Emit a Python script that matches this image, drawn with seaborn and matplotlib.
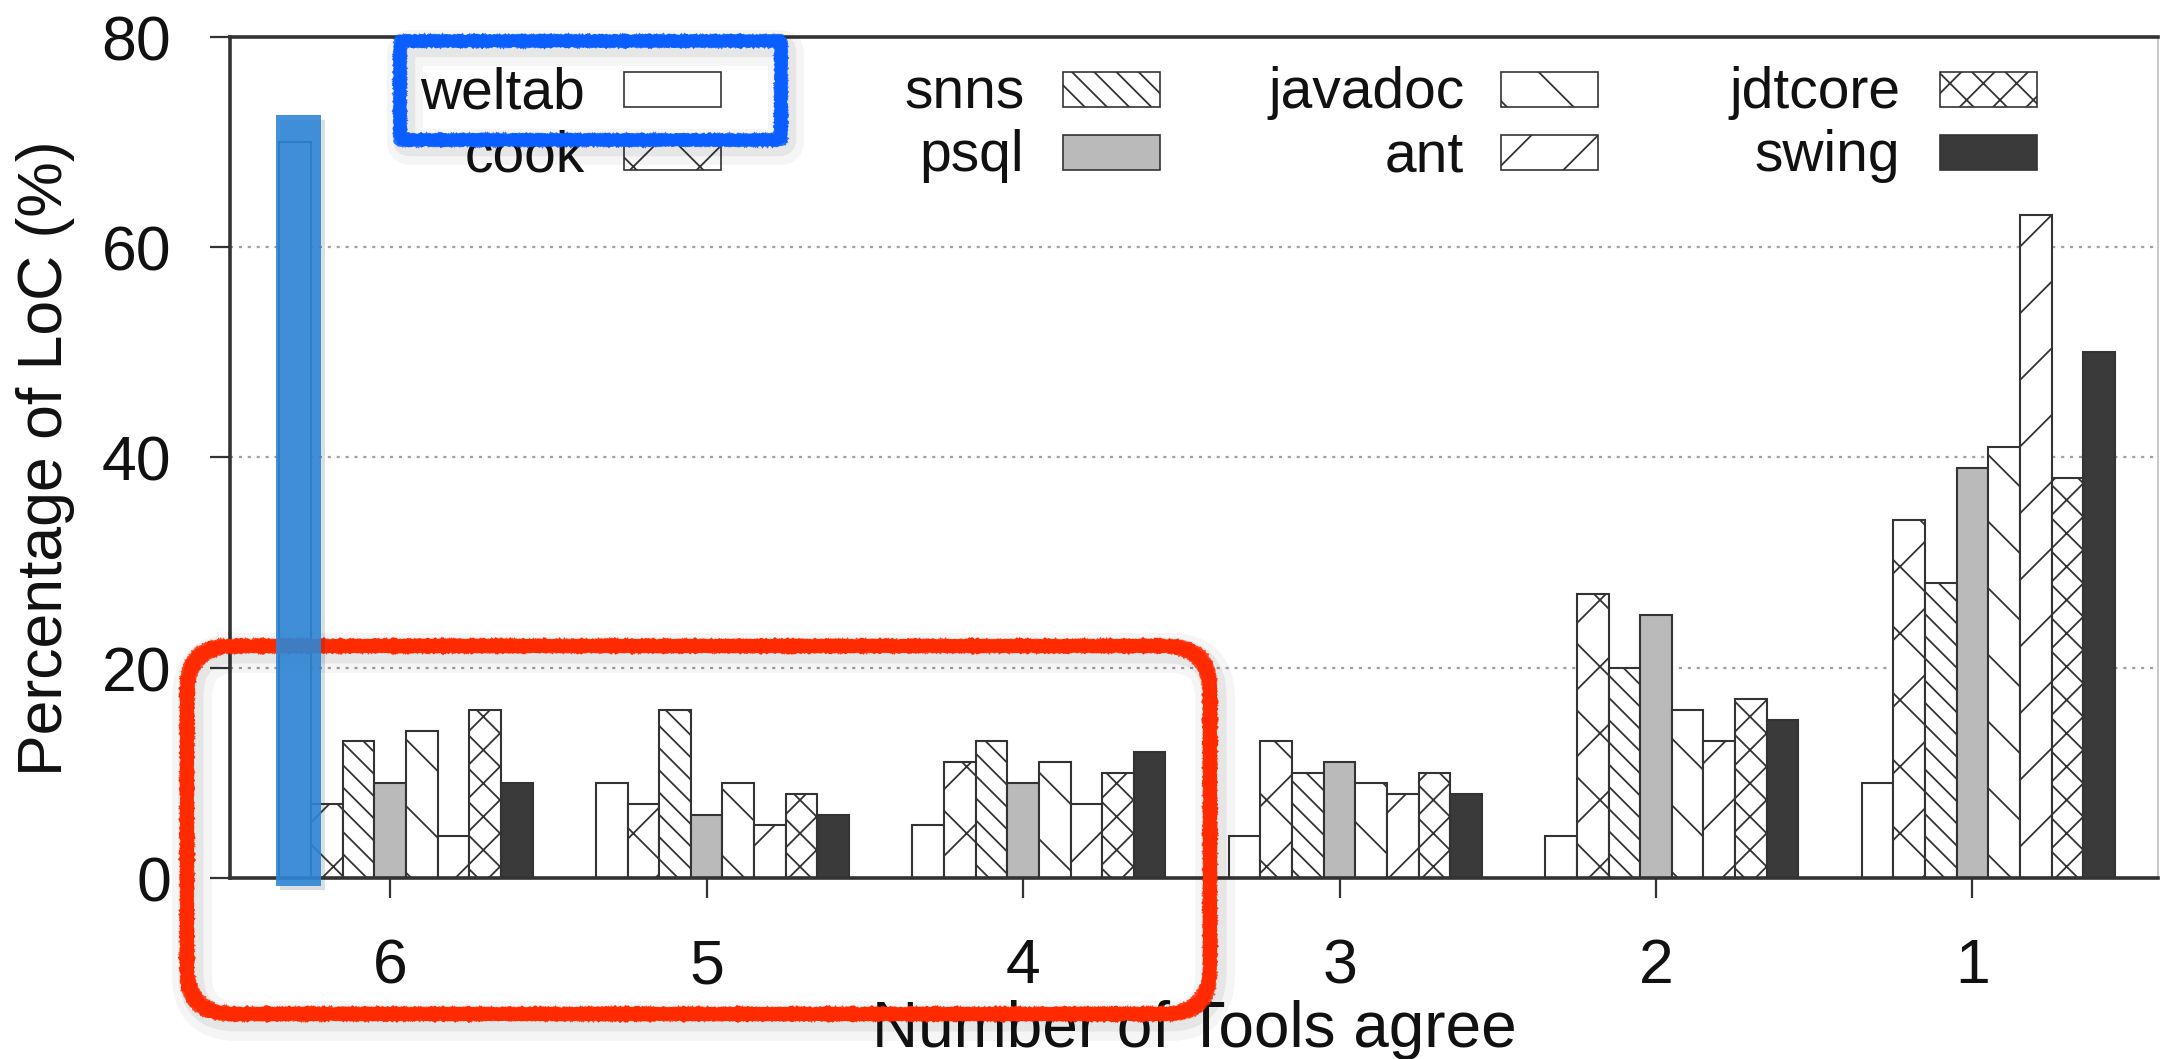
import numpy as np
import pandas as pd
import matplotlib
matplotlib.use("Agg")
import matplotlib.pyplot as plt
import matplotlib.patheffects as pe
import seaborn as sns
from matplotlib.patches import Rectangle, FancyBboxPatch
from matplotlib.transforms import IdentityTransform

# ---------------- data ----------------
groups = ["6", "5", "4", "3", "2", "1"]
tools = ["weltab", "cook", "snns", "psql", "javadoc", "ant", "jdtcore", "swing"]
weltab = [70, 9, 5, 4, 4, 9]
cook = [7, 7, 11, 13, 27, 34]
snns = [13, 16, 13, 10, 20, 28]
psql = [9, 6, 9, 11, 25, 39]
javadoc = [14, 9, 11, 9, 16, 41]
ant = [4, 5, 7, 8, 13, 63]
jdtcore = [16, 8, 10, 10, 17, 38]
swing = [9, 6, 12, 8, 15, 50]
y_ticks = [0, 20, 40, 60, 80]
x_label = "Number of Tools agree"
y_label = "Percentage of LoC (%)"

series = [weltab, cook, snns, psql, javadoc, ant, jdtcore, swing]
df = pd.DataFrame(
    [(g, t, v) for t, vals in zip(tools, series) for g, v in zip(groups, vals)],
    columns=["group", "tool", "value"],
)

# ---------------- style ----------------
sns.set_style("ticks")
plt.rcParams["font.family"] = ["Liberation Sans", "DejaVu Sans"]
plt.rcParams["hatch.linewidth"] = 0.65
plt.rcParams["hatch.color"] = "#333333"

EDGE = "#333333"
face = {"weltab": "#ffffff", "cook": "#ffffff", "snns": "#ffffff", "psql": "#bababa",
        "javadoc": "#ffffff", "ant": "#ffffff", "jdtcore": "#ffffff", "swing": "#3a3a3a"}
hatch_map = {"weltab": "", "cook": "x", "snns": "\\\\\\", "psql": "",
             "javadoc": "\\", "ant": "/", "jdtcore": "xx", "swing": ""}

W, H, DPI = 2161, 1059, 200
fig = plt.figure(figsize=((W + 0.5) / DPI, (H + 0.5) / DPI), dpi=DPI)
L, R, T, B = 230, 2158, 37, 878
ax = fig.add_axes([L / W, 1 - B / H, (R - L) / W, (B - T) / H])

sns.barplot(data=df, x="group", y="value", hue="tool", order=groups, hue_order=tools,
            palette=face, saturation=1, width=0.8, edgecolor=EDGE, linewidth=0.75,
            errorbar=None, legend=False, ax=ax, zorder=2)

for cont, t in zip(ax.containers, tools):
    for p in cont:
        p.set_hatch(hatch_map[t])
        p.set_edgecolor(EDGE)

bar_w = 0.8 / len(tools)
ax.set_ylim(0, 80)
ax.set_xlim(-0.556, 5.538)
ax.set_xticks(np.arange(len(groups)) - bar_w / 2, groups)
ax.set_yticks(y_ticks)
ax.tick_params(axis="both", direction="out", length=7.2, width=0.8, color=EDGE,
               labelsize=22.5, pad=14, labelcolor="#111111")
ax.yaxis.grid(True, color="#a0a0a0", linestyle=(0, (1.4, 2.6)), linewidth=0.8)
ax.xaxis.grid(False)
ax.set_axisbelow(True)
for s in ["left", "bottom", "top"]:
    ax.spines[s].set_color(EDGE)
    ax.spines[s].set_linewidth(1.3)
ax.spines["right"].set_color("#c0c0c0")
ax.spines["right"].set_linewidth(0.6)

ax.set_ylabel(y_label, fontsize=22.5, va="center", color="#111111")
ax.yaxis.set_label_coords((45 - L) / (R - L), 0.5)
ax.set_xlabel(x_label, fontsize=23, va="baseline", color="#111111")
ax.xaxis.set_label_coords(0.5, (B - 1047) / (B - T))

# ---------------- legend (gnuplot style: text then swatch) ----------------
leg_txt_right = [585, 1024, 1464, 1900]
leg_box_left = [624, 1063, 1501, 1940]
leg_rows = [89, 152]
box_w, box_h = 97, 35
for i, t in enumerate(tools):
    c, r = divmod(i, 2)
    yc = leg_rows[r]
    rect = Rectangle((leg_box_left[c], H - yc - box_h / 2), box_w, box_h,
                     transform=IdentityTransform(), facecolor=face[t], edgecolor=EDGE,
                     lw=0.6, hatch=hatch_map[t], zorder=5)
    fig.add_artist(rect)
    fig.text(leg_txt_right[c] / W, 1 - (yc + 19) / H, t, ha="right", va="baseline",
             fontsize=20.5, color="#111111")


# ---------------- hand-drawn annotations ----------------
def rough_box(x0, y0, x1, y1, color, lw, radius, z):
    # pixel coords with top-left origin
    def make(d, lww, col, alpha, sketch, dx=0, dy=0):
        style = f"round,pad=0,rounding_size={radius}" if radius > 0 else "square,pad=0"
        p = FancyBboxPatch((x0 + d + dx, H - y1 + d + dy), (x1 - x0) - 2 * d, (y1 - y0) - 2 * d,
                           boxstyle=style, transform=IdentityTransform(), fill=False,
                           edgecolor=col, lw=lww, alpha=alpha, zorder=z)
        if sketch:
            p.set_sketch_params(scale=sketch[0], length=sketch[1], randomness=sketch[2])
        fig.add_artist(p)
    # soft shadow
    make(0, lw * 2.4, "#000000", 0.04, None, dx=5, dy=-7)
    make(0, lw * 1.5, "#000000", 0.06, None, dx=4, dy=-5)
    # main rough strokes
    make(0, lw * 0.75, color, 1.0, (0.5, 1.2, 3))
    make(-4.5, lw * 0.25, color, 0.85, (0.8, 1.0, 3))
    make(4.5, lw * 0.25, color, 0.85, (0.8, 1.0, 3))


rough_box(187, 646, 1210, 1014, "#ff2a00", 6.0, 45, 10)
rough_box(400, 41, 781, 140, "#0a5dff", 5.4, 6, 12)

# blue highlight bar over weltab at "6"
p0 = min(ax.containers[0], key=lambda p: p.get_x())
bx, bw = p0.get_x(), p0.get_width()
top = weltab[0] + 2.5
blue = Rectangle((bx - 0.1 * bw, -0.8), 1.42 * bw, top + 0.8, transform=ax.transData,
                 facecolor="#2e86d6", alpha=0.9, edgecolor="none", zorder=11, clip_on=False,
                 path_effects=[pe.SimplePatchShadow(offset=(1.5, -1.5), alpha=0.15), pe.Normal()])
fig.add_artist(blue)

fig.savefig("out.png", dpi=DPI, facecolor="white")
